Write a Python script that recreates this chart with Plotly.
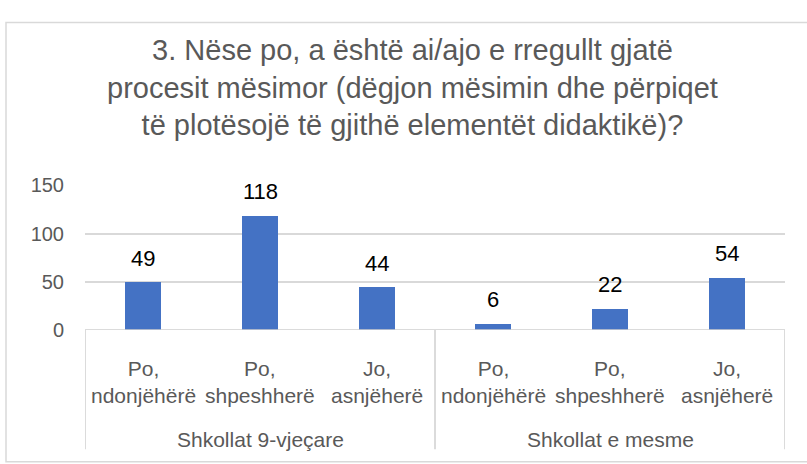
import plotly.graph_objects as go

# Survey answers by school type
groups = ["Shkollat 9-vjeçare", "Shkollat e mesme"]
answers = ["Po,<br>ndonjëhërë", "Po,<br>shpeshherë", "Jo,<br>asnjëherë"]
values_9 = [49, 118, 44]
values_mesme = [6, 22, 54]
y_ticks = [0, 50, 100, 150]

title_text = ("3. Nëse po, a është ai/ajo e rregullt gjatë<br>"
              "procesit mësimor (dëgjon mësimin dhe përpiqet<br>"
              "të plotësojë të gjithë elementët didaktikë)?")

values = values_9 + values_mesme
labels = answers * len(groups)
xpos = list(range(len(values)))

W, H = 807, 464
FONT = "Liberation Sans"
GREY = "#595959"
LINE = "#d9d9d9"

fig = go.Figure()
fig.add_trace(go.Bar(
    x=xpos, y=values, width=0.31,
    marker=dict(color="#4472C4", line=dict(width=0)),
    hoverinfo="skip",
))

annotations = []
# value labels above bars
for xi, v in zip(xpos, values):
    annotations.append(dict(
        x=xi, y=v, xref="x", yref="y", text=str(v), showarrow=False,
        yanchor="bottom", yshift=10, font=dict(family=FONT, size=22, color="black"),
    ))
# inner category labels
for xi, lab in zip(xpos, labels):
    annotations.append(dict(
        x=xi, y=1 - 389 / H, xref="x", yref="paper", text=lab, showarrow=False,
        yanchor="middle", font=dict(family=FONT, size=21, color=GREY),
    ))
# outer group labels
for gi, g in enumerate(groups):
    annotations.append(dict(
        x=gi * 3 + 1, y=1 - 450 / H, xref="x", yref="paper", text=g, showarrow=False,
        yanchor="middle", font=dict(family=FONT, size=21, color=GREY),
    ))
# chart title
annotations.append(dict(
    x=412 / W, y=1 - 80 / H, xref="paper", yref="paper", text=title_text,
    showarrow=False, xanchor="center", yanchor="middle", align="center",
    font=dict(family=FONT, size=29, color=GREY),
))

shapes = [
    # outer chart border
    dict(type="rect", xref="paper", yref="paper", x0=6 / W, x1=1.02, y0=-0.02, y1=1 - 12 / H,
         line=dict(color=LINE, width=1.5), fillcolor="rgba(0,0,0,0)"),
    # category axis baseline
    dict(type="line", xref="x", yref="y", x0=-0.5, x1=5.5, y0=0, y1=0,
         line=dict(color="#cfcfcf", width=1.5)),
]
# category axis group dividers
for xd in [-0.5, 2.5, 5.5]:
    shapes.append(dict(type="line", xref="x", yref="paper", x0=xd, x1=xd,
                       y0=1 - 335 / H, y1=1 - 460 / H,
                       line=dict(color="#cfcfcf", width=1.5)))

fig.update_layout(
    width=W, height=H,
    margin=dict(l=0, r=0, t=0, b=0),
    paper_bgcolor="white", plot_bgcolor="white",
    showlegend=False,
    bargap=0,
    xaxis=dict(range=[-0.5, 5.5], domain=[85 / W, 785 / W], showticklabels=False,
               showgrid=False, zeroline=False, showline=False, fixedrange=True),
    yaxis=dict(range=[0, 150], domain=[1 - 335 / H, 1 - 183 / H], tickvals=y_ticks,
               showgrid=True, gridcolor=LINE, gridwidth=1.5, zeroline=False, showline=False,
               ticks="", ticklabelstandoff=20,
               tickfont=dict(family=FONT, size=20, color=GREY)),
    annotations=annotations,
    shapes=shapes,
)

fig.write_html("out.html")
